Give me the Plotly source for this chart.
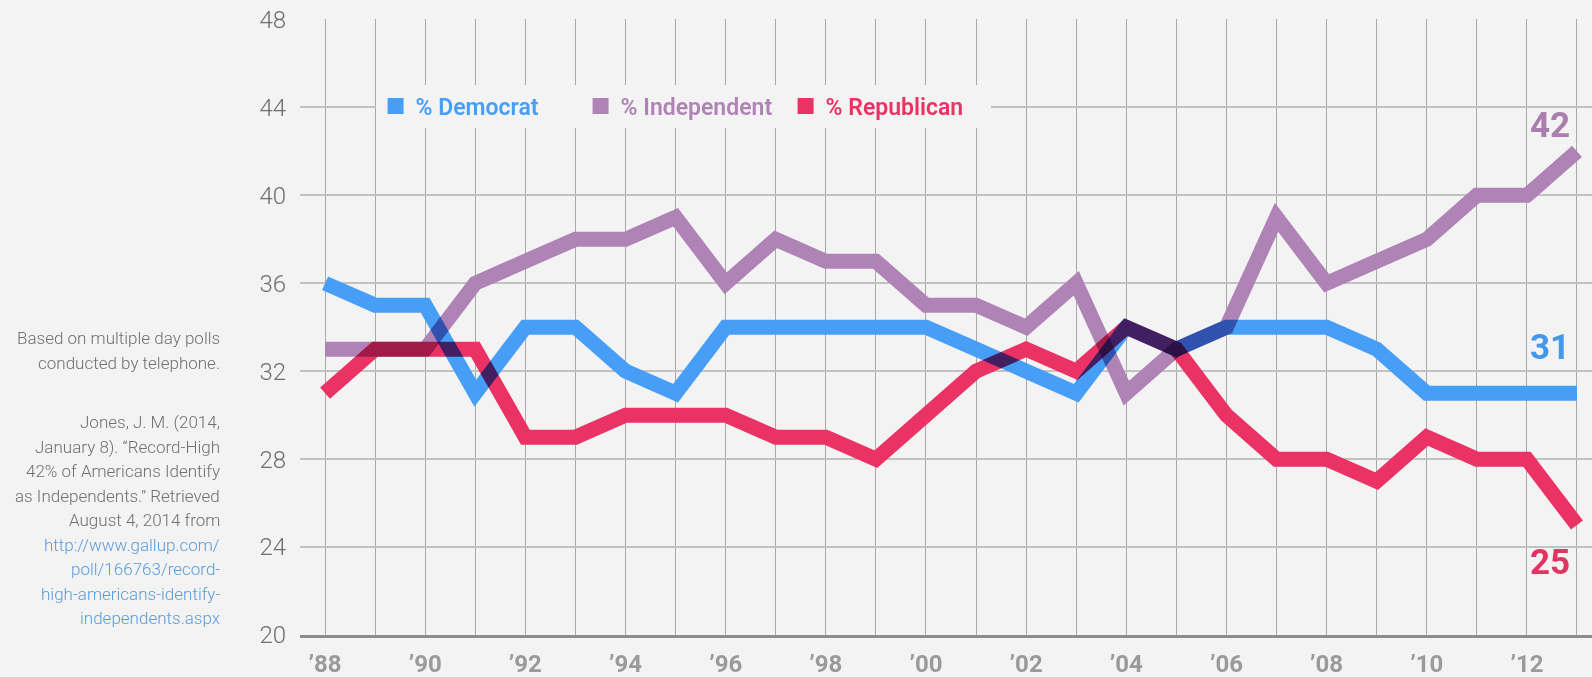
import plotly.graph_objects as go

# Gallup party identification, annual averages
years = list(range(1988, 2014))
democrat = [36, 35, 35, 31, 34, 34, 32, 31, 34, 34, 34, 34, 34,
            33, 32, 31, 34, 33, 34, 34, 34, 33, 31, 31, 31, 31]
independent = [33, 33, 33, 36, 37, 38, 38, 39, 36, 38, 37, 37, 35,
               35, 34, 36, 31, 33, 34, 39, 36, 37, 38, 40, 40, 42]
republican = [31, 33, 33, 33, 29, 29, 30, 30, 30, 29, 29, 28, 30,
              32, 33, 32, 34, 33, 30, 28, 28, 27, 29, 28, 28, 25]

series_names = ["% Democrat", "% Independent", "% Republican"]
x_tick_labels = ["\u201988", "", "\u201990", "", "\u201992", "", "\u201994", "",
                 "\u201996", "", "\u201998", "", "\u201900", "", "\u201902", "",
                 "\u201904", "", "\u201906", "", "\u201908", "", "\u201910", "",
                 "\u201912", ""]
y_ticks = [20, 24, 28, 32, 36, 40, 44, 48]

note_lines = ["Based on multiple day polls", "conducted by telephone."]
source_lines = ["Jones, J. M. (2014,", "January 8). \u201cRecord-High",
                "42% of Americans Identify", "as Independents.\u201d Retrieved",
                "August 4, 2014 from"]
url_lines = ["http://www.gallup.com/", "poll/166763/record-",
             "high-americans-identify-", "independents.aspx"]

colors = ["#479ef6", "#b083b6", "#eb3264"]
label_colors = ["#4398ec", "#ab7eb0", "#e23461"]
BG = "#f3f3f3"

# plot area geometry (pixels)
W, H = 1592, 677
M_L, M_R, M_T, M_B = 300, 0, 19, 42
plot_h = H - M_T - M_B


def paper_y(py):
    return (H - M_B - py) / plot_h


fig = go.Figure()

# the lines themselves (legend is handled by square-marker dummies)
for vals, c in zip([democrat, independent, republican], colors):
    fig.add_trace(go.Scatter(x=years, y=vals, mode="lines",
                             line=dict(color=c, width=15),
                             showlegend=False, hoverinfo="skip"))

for name, c in zip(series_names, colors):
    fig.add_trace(go.Scatter(x=[None], y=[None], mode="markers",
                             marker=dict(symbol="square", size=20, color=c),
                             name="<span style='color:%s'>%s</span>" % (c, name)))

# end value labels
ends = [(democrat[-1], label_colors[0], 46),
        (independent[-1], label_colors[1], 26),
        (republican[-1], label_colors[2], -37)]
for val, c, shift in ends:
    fig.add_annotation(x=years[-1], y=val, xref="x", yref="y",
                       text="<b>%d</b>" % val, showarrow=False,
                       xanchor="right", xshift=-5, yshift=shift,
                       font=dict(family="Roboto", size=35, color=c, weight=900))

# notes on the left
note_font = dict(family="Roboto", size=17, color="#707070", weight=300)
for i, line in enumerate(note_lines):
    fig.add_annotation(x=0, y=paper_y(338 + i * 24.5), xref="paper", yref="paper",
                       text=line, showarrow=False, xanchor="right", yanchor="middle",
                       xshift=-78, align="right", font=note_font)
for i, line in enumerate(source_lines + url_lines):
    f = dict(note_font)
    if i >= len(source_lines):
        f["color"] = "#5b9bdb"
    fig.add_annotation(x=0, y=paper_y(422 + i * 24.5), xref="paper", yref="paper",
                       text=line, showarrow=False, xanchor="right", yanchor="middle",
                       xshift=-78, align="right", font=f)

fig.update_layout(
    width=W, height=H,
    margin=dict(l=M_L, r=M_R, t=M_T, b=M_B),
    paper_bgcolor=BG, plot_bgcolor=BG,
    hovermode=False,
    legend=dict(orientation="h", x=0.0585, xanchor="left",
                y=paper_y(106), yanchor="middle",
                bgcolor=BG, entrywidth=160,
                font=dict(family="Roboto", size=23, weight=600)),
)

fig.update_xaxes(range=[1987.5, 2013.3], tickvals=years, ticktext=x_tick_labels,
                 showgrid=True, gridcolor="#a8a8a8", gridwidth=1.2,
                 showline=True, linecolor="#8c8c8c", linewidth=3,
                 zeroline=False, ticks="", ticklabelstandoff=5, automargin=False,
                 tickfont=dict(family="Roboto", size=24, color="#9a9a9a", weight="bold"))
fig.update_yaxes(range=[20, 48.02], tickvals=y_ticks,
                 showgrid=True, gridcolor="#c2c2c2", gridwidth=2,
                 zeroline=False, ticks="", ticklabelstandoff=13, automargin=False,
                 tickfont=dict(family="Roboto", size=24, color="#6e6e6e", weight=300))

# overlapping lines darken each other like in the original (multiply blending);
# also drop the default page margin so the figure sits at the window corner
blend_js = ("var s=document.createElement('style');"
            "s.innerHTML='body{margin:0}.scatterlayer .trace{mix-blend-mode:multiply}';"
            "document.head.appendChild(s);")

fig.write_html("out.html", post_script=blend_js, config={"displayModeBar": False})
